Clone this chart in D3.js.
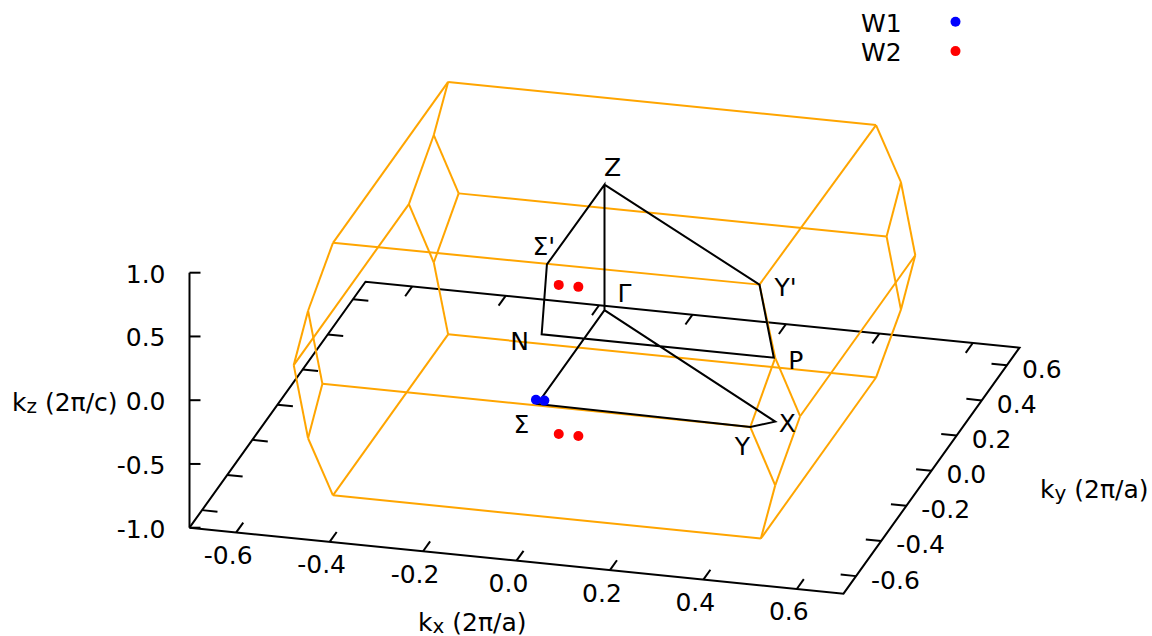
<!DOCTYPE html>
<html>
<head>
<meta charset="utf-8">
<script src="https://cdn.jsdelivr.net/npm/d3@7"></script>
<style>
  body { margin: 0; background: #fff; }
  text { font-family: "DejaVu Sans", sans-serif; font-size: 25px; fill: #000; }
</style>
</head>
<body>
<div id="chart"></div>
<script>
// tick labels
var xTicks = [-0.6, -0.4, -0.2, 0.0, 0.2, 0.4, 0.6];
var yTicks = [-0.6, -0.4, -0.2, 0.0, 0.2, 0.4, 0.6];
var zTicks = [-1.0, -0.5, 0.0, 0.5, 1.0];

// brillouin zone corners (kx, ky, kz)
var bzVertices = [
  [-0.458, -0.458, 0.99], [0.455, -0.458, 1], [0.458, 0.458, 0.99], [-0.458, 0.458, 0.99],
  [-0.458, -0.458, -0.99], [0.458, -0.458, -0.99], [0.458, 0.458, -0.99], [-0.458, 0.458, -0.99],
  [-0.5, -0.5, 0.5], [0.5, -0.5, 0.5], [0.5, 0.5, 0.5], [-0.5, 0.5, 0.5],
  [-0.5, -0.5, -0.5], [0.5, -0.5, -0.5], [0.5, 0.5, -0.5], [-0.5, 0.5, -0.5],
  [-0.542, -0.458, 0], [-0.458, -0.542, 0], [0.458, -0.542, 0], [0.542, -0.458, 0],
  [0.542, 0.458, 0], [0.458, 0.542, 0], [-0.458, 0.542, 0], [-0.542, 0.458, 0]
];
var bzEdges = [
  [0, 1], [1, 2], [2, 3], [3, 0], [4, 5], [5, 6], [6, 7], [7, 4],
  [0, 8], [1, 9], [2, 10], [3, 11], [4, 12], [5, 13], [6, 14], [7, 15],
  [8, 16], [8, 17], [12, 16], [12, 17], [9, 18], [9, 19], [13, 18], [13, 19],
  [10, 20], [10, 21], [14, 20], [14, 21], [11, 22], [11, 23], [15, 22], [15, 23],
  [17, 18], [19, 20], [21, 22], [23, 16]
];

// high symmetry points
var symNames = ["Γ", "Σ", "Y", "X", "Z", "Σ'", "N", "P", "Y'"];
var symCoords = [
  [0, 0, 0], [0, -0.534, 0], [0.458, -0.542, 0], [0.5, -0.5, 0], [0, 0, 0.985],
  [0, -0.458, 0.99], [0, -0.5, 0.5], [0.497, -0.5, 0.5], [0.455, -0.458, 1]
];
var kPath = ["Γ", "Σ", "Y", "X", "Γ", "Z", "Σ'", "N", "P", "Y'", "Z"];

// weyl points
var w1 = [[-0.009, -0.512, 0], [0.009, -0.512, 0]];
var w2 = [
  [-0.021, -0.286, 0.585], [0.021, -0.286, 0.585],
  [-0.021, -0.286, -0.585], [0.021, -0.286, -0.585]
];

var width = 1152, height = 636;
var svg = d3.select("#chart").append("svg")
  .attr("width", width).attr("height", height)
  .style("display", "block");

// gnuplot style box: one scale per axis, 0..1 along each box edge
var fx = d3.scaleLinear().domain([-0.7, 0.7]).range([0, 1]);
var fy = d3.scaleLinear().domain([-0.7, 0.7]).range([0, 1]);
var fz = d3.scaleLinear().domain([-1, 1]).range([0, 1]);

var origin = [189.5, 527.7], xVec = [654, 66], yVec = [176, -246], zVec = [0, -255];

function project(p) {
  var u = fx(p[0]), v = fy(p[1]), w = fz(p[2]);
  return [
    origin[0] + u * xVec[0] + v * yVec[0] + w * zVec[0],
    origin[1] + u * xVec[1] + v * yVec[1] + w * zVec[1]
  ];
}

var line3d = d3.line().x(function (p) { return project(p)[0]; }).y(function (p) { return project(p)[1]; });
var lw = 2;

function seg(a, b) {
  svg.append("path").attr("d", line3d([a, b]))
    .attr("fill", "none").attr("stroke", "#000").attr("stroke-width", lw);
}

// base of the box
var base = [[-0.7, -0.7, -1], [0.7, -0.7, -1], [0.7, 0.7, -1], [-0.7, 0.7, -1], [-0.7, -0.7, -1]];
svg.append("path").attr("d", line3d(base))
  .attr("fill", "none").attr("stroke", "#000").attr("stroke-width", lw);
// z axis
seg([-0.7, -0.7, -1], [-0.7, -0.7, 1]);

var xTicLen = 0.056, yTicLen = 0.033;

xTicks.forEach(function (t) {
  seg([t, -0.7, -1], [t, -0.7 + xTicLen, -1]);
  seg([t, 0.7, -1], [t, 0.7 - xTicLen, -1]);
  var p = project([t, -0.7, -1]);
  svg.append("text").attr("x", p[0] - 8).attr("y", p[1] + 23)
    .attr("text-anchor", "middle").attr("dominant-baseline", "central")
    .text(t.toFixed(1));
});

yTicks.forEach(function (t) {
  seg([0.7, t, -1], [0.7 - yTicLen, t, -1]);
  seg([-0.7, t, -1], [-0.7 + yTicLen, t, -1]);
  var p = project([0.7, t, -1]);
  svg.append("text").attr("x", p[0] + 15).attr("y", p[1] + 4)
    .attr("text-anchor", "start").attr("dominant-baseline", "central")
    .text(t.toFixed(1));
});

zTicks.forEach(function (t) {
  var p = project([-0.7, -0.7, t]);
  svg.append("path").attr("d", d3.line()([p, [p[0] + 11, p[1]]]))
    .attr("fill", "none").attr("stroke", "#000").attr("stroke-width", lw);
  svg.append("text").attr("x", p[0] - 24).attr("y", p[1] + 1.5)
    .attr("text-anchor", "end").attr("dominant-baseline", "central")
    .text(t.toFixed(1));
});

// brillouin zone
svg.append("g").selectAll("path").data(bzEdges).join("path")
  .attr("d", function (e) { return line3d([bzVertices[e[0]], bzVertices[e[1]]]); })
  .attr("fill", "none").attr("stroke", "#ffa500").attr("stroke-width", lw);

// path through the zone
svg.append("path")
  .attr("d", line3d(kPath.map(function (n) { return symCoords[symNames.indexOf(n)]; })))
  .attr("fill", "none").attr("stroke", "#000").attr("stroke-width", lw);

function dots(pts, color) {
  svg.append("g").selectAll("circle").data(pts).join("circle")
    .attr("cx", function (p) { return project(p)[0]; })
    .attr("cy", function (p) { return project(p)[1]; })
    .attr("r", 5).attr("fill", color);
}
dots(w1, "#0000ff");
dots(w2, "#ff0000");

// labels of the symmetry points, pixel offset from the projected point
var symOffsets = [[20, -17], [-16, 20], [-8, 19], [12, 2], [8, -17], [-3, -18], [-22, 7], [22, 3], [26, 3]];
symNames.forEach(function (n, i) {
  var p = project(symCoords[i]);
  svg.append("text").attr("x", p[0] + symOffsets[i][0]).attr("y", p[1] + symOffsets[i][1])
    .attr("text-anchor", "middle").attr("dominant-baseline", "central").text(n);
});

// axis titles
function axisLabel(x, y, sub, unit) {
  var t = svg.append("text").attr("x", x).attr("y", y).attr("dominant-baseline", "central");
  t.append("tspan").text("k");
  t.append("tspan").attr("dy", 4).style("font-size", "20px").text(sub);
  t.append("tspan").attr("dy", -4).text(" (2π/" + unit + ")");
}
axisLabel(12, 402, "z", "c");
axisLabel(1040, 489, "y", "a");
axisLabel(418, 622, "x", "a");

// legend
var legendNames = ["W1", "W2"], legendColors = ["#0000ff", "#ff0000"];
legendNames.forEach(function (n, i) {
  svg.append("text").attr("x", 861).attr("y", 23 + i * 29.5).attr("dominant-baseline", "central").text(n);
  svg.append("circle").attr("cx", 955.5).attr("cy", 21.7 + i * 29.4).attr("r", 5).attr("fill", legendColors[i]);
});
</script>
</body>
</html>
